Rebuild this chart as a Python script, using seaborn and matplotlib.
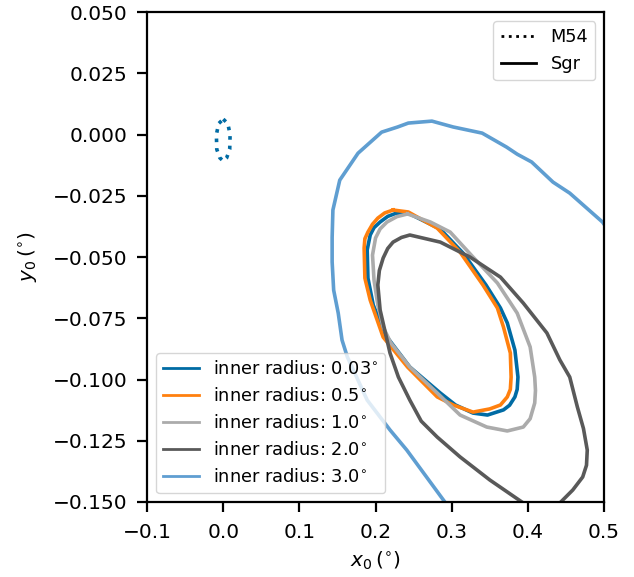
import numpy as np
import pandas as pd
import seaborn as sns
from matplotlib import pyplot as plt
from matplotlib.lines import Line2D

# contour outlines (x0, y0 in degrees)
m54_x = [0.000, 0.006, 0.009, 0.0085, 0.0045, 0.000, -0.0045, -0.0085, -0.009, -0.006, 0.000]
m54_y = [0.0063, 0.0045, 0.000, -0.006, -0.0095, -0.0108, -0.0095, -0.006, 0.000, 0.0045, 0.0063]

r003_x = [0.228, 0.245, 0.285, 0.315, 0.345, 0.364, 0.373, 0.383, 0.387, 0.386, 0.383, 0.376, 0.368, 0.347,
          0.328, 0.305, 0.285, 0.245, 0.213, 0.197, 0.190, 0.189, 0.193, 0.198, 0.206, 0.216, 0.228]
r003_y = [-0.0320, -0.0324, -0.0386, -0.0484, -0.0614, -0.0708, -0.0769, -0.0880, -0.0990, -0.1040, -0.1071,
          -0.1105, -0.1124, -0.1145, -0.1137, -0.1104, -0.1055, -0.0949, -0.0818, -0.0696, -0.0586, -0.0471,
          -0.0410, -0.0380, -0.0357, -0.0334, -0.0320]

r05_x = [0.223, 0.243, 0.281, 0.311, 0.341, 0.360, 0.368, 0.377, 0.378, 0.377, 0.373, 0.364, 0.350, 0.328,
         0.302, 0.281, 0.242, 0.210, 0.193, 0.186, 0.185, 0.186, 0.190, 0.196, 0.203, 0.212, 0.223]
r05_y = [-0.0308, -0.0316, -0.0382, -0.0480, -0.0614, -0.0708, -0.0786, -0.0892, -0.0990, -0.1040, -0.1071,
         -0.1104, -0.1120, -0.1133, -0.1104, -0.1071, -0.0949, -0.0827, -0.0676, -0.0586, -0.0463, -0.0425,
         -0.0398, -0.0366, -0.0341, -0.0320, -0.0308]

r10_x = [0.242, 0.272, 0.298, 0.328, 0.360, 0.386, 0.403, 0.409, 0.410, 0.409, 0.403, 0.394, 0.373, 0.346,
         0.311, 0.281, 0.245, 0.220, 0.210, 0.203, 0.198, 0.196, 0.200, 0.206, 0.215, 0.228, 0.242]
r10_y = [-0.0324, -0.0357, -0.0398, -0.0500, -0.0606, -0.0729, -0.0867, -0.0990, -0.1045, -0.1096, -0.1160,
         -0.1194, -0.1210, -0.1194, -0.1145, -0.1055, -0.0949, -0.0850, -0.0786, -0.0696, -0.0594, -0.0492,
         -0.0422, -0.0385, -0.0357, -0.0335, -0.0324]

r20_x = [0.418, 0.394, 0.350, 0.311, 0.281, 0.260, 0.245, 0.230, 0.219, 0.206, 0.203, 0.205, 0.210, 0.216,
         0.223, 0.234, 0.245, 0.285, 0.324, 0.364, 0.394, 0.425, 0.442, 0.455, 0.465, 0.473, 0.478, 0.477,
         0.472, 0.459, 0.442, 0.418]
r20_y = [-0.1560, -0.1504, -0.1410, -0.1316, -0.1235, -0.1170, -0.1084, -0.0990, -0.0892, -0.0716, -0.0614,
         -0.0555, -0.0504, -0.0465, -0.0439, -0.0420, -0.0410, -0.0439, -0.0500, -0.0582, -0.0688, -0.0810,
         -0.0920, -0.0990, -0.1112, -0.1200, -0.1288, -0.1350, -0.1398, -0.1451, -0.1504, -0.1560]

r30_x = [0.300, 0.291, 0.241, 0.219, 0.189, 0.163, 0.156, 0.151, 0.145, 0.143, 0.143, 0.144, 0.153,
         0.177, 0.208, 0.229, 0.243, 0.274, 0.302, 0.340, 0.372, 0.386, 0.405, 0.433, 0.455,
         0.498, 0.510]
r30_y = [-0.1550, -0.1500, -0.1288, -0.1206, -0.1084, -0.0908, -0.0839, -0.0729, -0.0635, -0.0520,
         -0.0420, -0.0308, -0.0186, -0.0076, 0.0010, 0.0031, 0.0047, 0.0055, 0.0031, 0.0006, -0.0051,
         -0.0080, -0.0112, -0.0194, -0.0239, -0.0357, -0.0410]

labels = [r'inner radius: 0.03$^{\circ}$', r'inner radius: 0.5$^{\circ}$',
          r'inner radius: 1.0$^{\circ}$', r'inner radius: 2.0$^{\circ}$',
          r'inner radius: 3.0$^{\circ}$']
colors = ['#006BA4', '#FF800E', '#ABABAB', '#595959', '#5F9ED1']

plt.rcParams['font.size'] = 14.5
plt.rcParams['axes.linewidth'] = 1.6
plt.rcParams['xtick.major.width'] = 1.6
plt.rcParams['ytick.major.width'] = 1.6
plt.rcParams['xtick.major.size'] = 7
plt.rcParams['ytick.major.size'] = 7
plt.rcParams['xtick.major.pad'] = 8
plt.rcParams['ytick.major.pad'] = 7

fig = plt.figure(figsize=(6.34, 5.77), dpi=100)
ax = fig.add_axes([0.232, 0.130, 0.7207, 0.849])

sns.lineplot(x=m54_x, y=m54_y, sort=False, estimator=None, color=colors[0],
             linestyle=':', linewidth=2.6, ax=ax)

curves = [(r003_x, r003_y), (r05_x, r05_y), (r10_x, r10_y), (r20_x, r20_y), (r30_x, r30_y)]
handles = []
for (cx, cy), lab, col in zip(curves, labels, colors):
    sns.lineplot(x=cx, y=cy, sort=False, estimator=None, color=col, linewidth=2.6, ax=ax)
    handles.append(Line2D([], [], color=col, linewidth=2, label=lab))

ax.set_xlim(-0.1, 0.5)
ax.set_ylim(-0.15, 0.05)
ax.set_xticks([-0.1, 0.0, 0.1, 0.2, 0.3, 0.4, 0.5])
ax.set_yticks([0.05, 0.025, 0.0, -0.025, -0.05, -0.075, -0.1, -0.125, -0.15])
ax.set_xlabel(r'$x_0\,(^{\circ})$', labelpad=6)
ax.set_ylabel(r'$y_0\,(^{\circ})$', labelpad=10)

leg1 = ax.legend(handles=handles, loc='lower left', fontsize=12.8, handlelength=2.0)
ax.add_artist(leg1)
style_handles = [Line2D([], [], color='black', linestyle=':', linewidth=2, label='M54'),
                 Line2D([], [], color='black', linestyle='-', linewidth=2, label='Sgr')]
ax.legend(handles=style_handles, loc='upper right', fontsize=12.8, handlelength=2.0)

fig.savefig('out.png', dpi=100)
